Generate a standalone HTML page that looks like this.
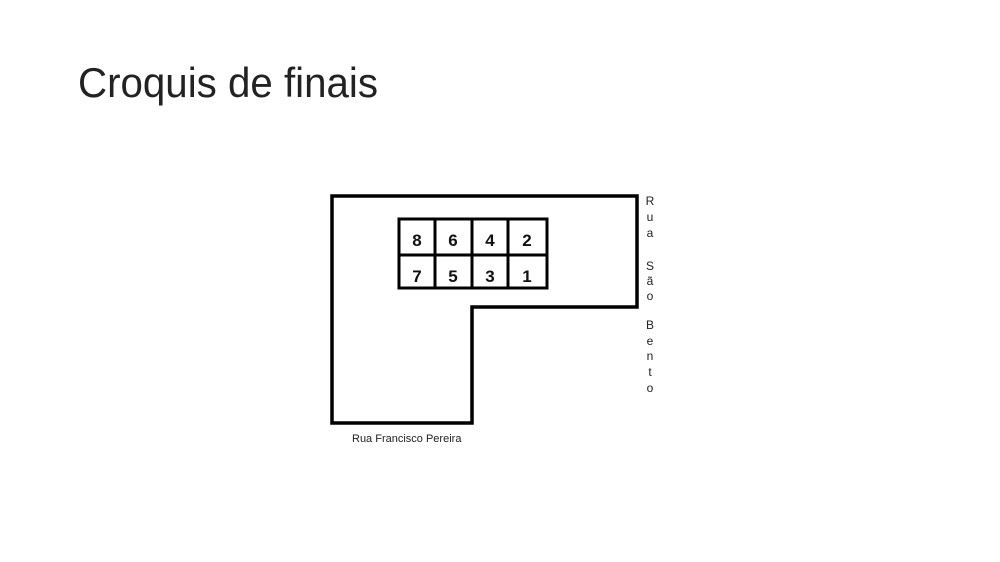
<!DOCTYPE html>
<html><head><meta charset="utf-8"><style>
html,body{margin:0;padding:0;background:#fff;}
svg{display:block;}
</style></head><body>
<svg width="1000" height="562" xmlns="http://www.w3.org/2000/svg">
<rect width="1000" height="562" fill="#fff"/>
<text x="78" y="97" font-family="Liberation Sans, sans-serif" font-size="42" textLength="300" lengthAdjust="spacingAndGlyphs" fill="#222">Croquis de finais</text>
<polygon points="332,196 637,196 637,307 472,307 472,423 332,423" fill="none" stroke="#000" stroke-width="3.5"/>
<g fill="none" stroke="#000" stroke-width="3">
<rect x="399" y="219" width="148" height="69"/>
<line x1="399" y1="255" x2="547" y2="255"/>
<line x1="435" y1="219" x2="435" y2="288"/>
<line x1="472" y1="219" x2="472" y2="288"/>
<line x1="508" y1="219" x2="508" y2="288"/>
</g>
<g font-family="Liberation Sans, sans-serif" font-weight="bold" font-size="17" text-anchor="middle" fill="#111">
<text x="417" y="246">8</text><text x="453" y="246">6</text><text x="490" y="246">4</text><text x="527" y="246">2</text>
<text x="417" y="282">7</text><text x="453" y="282">5</text><text x="490" y="282">3</text><text x="527" y="282">1</text>
</g>
<g font-family="Liberation Sans, sans-serif" font-size="12" text-anchor="middle" fill="#222">
<text x="650" y="205">R</text><text x="650" y="221">u</text><text x="650" y="237">a</text>
<text x="650" y="270">S</text><text x="650" y="285">ã</text><text x="650" y="300">o</text>
<text x="650" y="329">B</text><text x="650" y="345">e</text><text x="650" y="360">n</text><text x="650" y="376">t</text><text x="650" y="392">o</text>
</g>
<text x="352" y="442" font-family="Liberation Sans, sans-serif" font-size="11" fill="#222">Rua Francisco Pereira</text>
</svg>
</body></html>
